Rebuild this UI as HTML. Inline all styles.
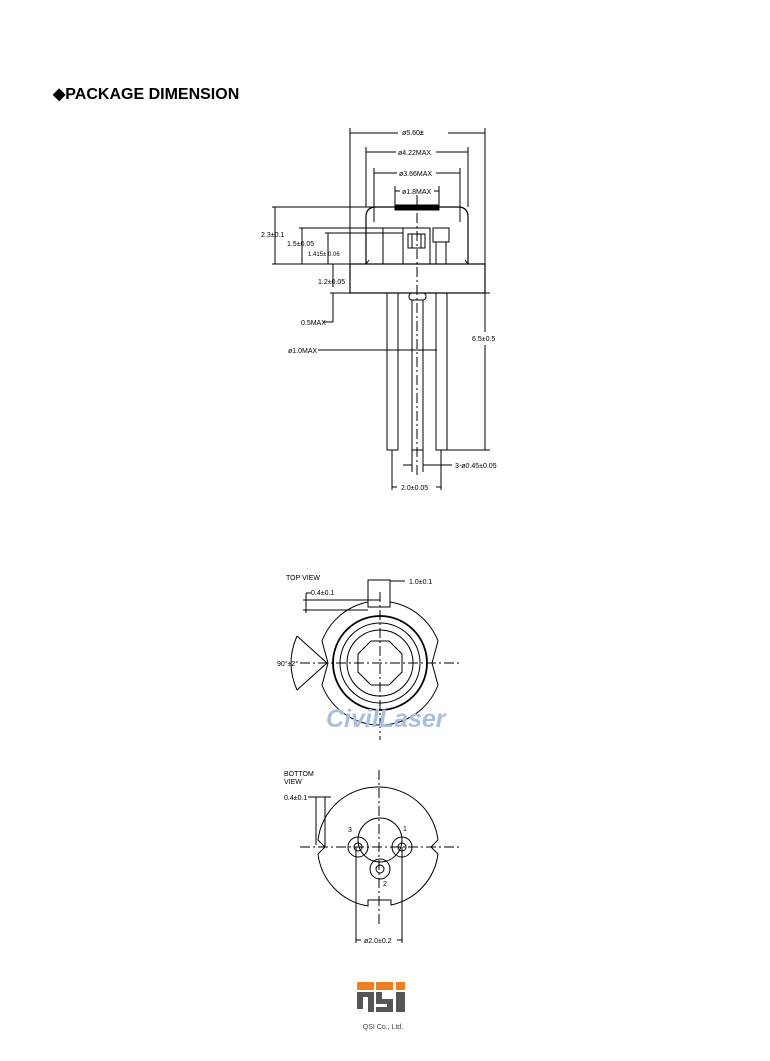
<!DOCTYPE html>
<html><head><style>
body{margin:0;background:#fff;width:770px;height:1061px;overflow:hidden;font-family:"Liberation Sans",sans-serif}
</style></head><body>
<svg width="770" height="1061" viewBox="0 0 770 1061" xmlns="http://www.w3.org/2000/svg" style="position:absolute;left:0;top:0">
<text x="53" y="99" font-size="16" font-weight="bold" fill="#000">◆PACKAGE DIMENSION</text>
<g stroke="#000" fill="none" stroke-width="1">
<rect x="350" y="264" width="135" height="29" stroke-width="1.2"/>
<path d="M366 264 L366 217 Q366 207 376 207 L458 207 Q468 207 468 217 L468 264" stroke-width="1.2"/>
<path d="M369 260 L366 264 M465 260 L468 264"/>
<rect x="395" y="205" width="44" height="5" fill="#000"/>
<line x1="383" y1="228" x2="383" y2="264"/>
<rect x="403" y="228" width="27" height="36"/>
<rect x="408" y="234" width="17" height="14"/>
<line x1="412" y1="234" x2="412" y2="248"/><line x1="421" y1="234" x2="421" y2="248"/>
<rect x="433" y="228" width="16" height="14"/>
<line x1="436" y1="242" x2="436" y2="264"/><line x1="446" y1="242" x2="446" y2="264"/>
<line x1="272" y1="207" x2="395" y2="207"/>
<line x1="299" y1="228" x2="403" y2="228"/>
<line x1="325" y1="233" x2="403" y2="233"/>
<line x1="272" y1="264" x2="350" y2="264"/>
<line x1="330" y1="293" x2="350" y2="293"/>
<line x1="350" y1="128" x2="350" y2="264"/>
<line x1="485" y1="128" x2="485" y2="264"/>
<line x1="366" y1="147" x2="366" y2="207"/>
<line x1="468" y1="147" x2="468" y2="207"/>
<line x1="374" y1="168" x2="374" y2="222"/>
<line x1="460" y1="168" x2="460" y2="222"/>
<line x1="395" y1="186" x2="395" y2="205"/>
<line x1="439" y1="186" x2="439" y2="205"/>
<line x1="350" y1="133" x2="398" y2="133"/><line x1="448" y1="133" x2="485" y2="133"/>
<line x1="366" y1="152" x2="396" y2="152"/><line x1="436" y1="152" x2="468" y2="152"/>
<line x1="374" y1="173" x2="397" y2="173"/><line x1="436" y1="173" x2="460" y2="173"/>
<line x1="395" y1="191" x2="400" y2="191"/><line x1="434" y1="191" x2="439" y2="191"/>
<line x1="275" y1="207" x2="275" y2="264"/>
<line x1="302" y1="228" x2="302" y2="264"/>
<line x1="328" y1="233" x2="328" y2="264"/>
<line x1="333" y1="264" x2="333" y2="287"/>
<line x1="333" y1="293" x2="333" y2="322"/><line x1="323" y1="322" x2="333" y2="322"/>
<line x1="318" y1="350" x2="437" y2="350"/>
<line x1="417" y1="195" x2="417" y2="475" stroke-dasharray="10,3,2,3"/>
<rect x="387" y="293" width="11" height="157"/>
<rect x="412" y="300" width="11" height="150"/>
<rect x="409" y="293" width="17" height="7" rx="3"/>
<rect x="436" y="293" width="11" height="157"/>
<line x1="392" y1="450" x2="392" y2="490"/>
<line x1="441" y1="450" x2="441" y2="490"/>
<line x1="412" y1="450" x2="412" y2="472"/><line x1="423" y1="450" x2="423" y2="472"/>
<line x1="403" y1="465" x2="412" y2="465"/><line x1="423" y1="465" x2="452" y2="465"/>
<line x1="392" y1="487" x2="397" y2="487"/><line x1="436" y1="487" x2="441" y2="487"/>
<line x1="485" y1="293" x2="485" y2="332"/><line x1="485" y1="345" x2="485" y2="450"/>
<line x1="447" y1="450" x2="490" y2="450"/>
<line x1="480" y1="293" x2="490" y2="293"/>
</g>
<g font-family="Liberation Sans,sans-serif" font-size="7" fill="#000">
<text x="402" y="135">ø5.60<tspan font-weight="bold">±</tspan></text>
<text x="398" y="155">ø4.22MAX</text>
<text x="399" y="176">ø3.66MAX</text>
<text x="402" y="194">ø1.8MAX</text>
<text x="261" y="237">2.3±0.1</text>
<text x="287" y="246">1.5±0.05</text>
<text x="308" y="256" font-size="6">1.415± 0.06</text>
<text x="318" y="284">1.2±0.05</text>
<text x="301" y="325">0.5MAX</text>
<text x="288" y="353">ø1.0MAX</text>
<text x="472" y="341">6.5±0.5</text>
<text x="455" y="468">3-ø0.45±0.05</text>
<text x="401" y="490">2.0±0.05</text>
</g>
<!-- TOP VIEW -->
<g stroke="#000" fill="none" stroke-width="1">
<path d="M368 602 A62 62 0 0 0 322 641 L328 663 L322 685 A62 62 0 0 0 380 725 A62 62 0 0 0 438 685 L432 663 L438 641 A62 62 0 0 0 390 602"/>
<rect x="368" y="580" width="22" height="27"/>
<circle cx="380" cy="663" r="47" stroke-width="1.8"/>
<circle cx="380" cy="663" r="40"/>
<circle cx="380" cy="663" r="33"/>
<polygon points="389,641 402,654 402,672 389,685 371,685 358,672 358,654 371,641"/>
<line x1="300" y1="663" x2="460" y2="663" stroke-dasharray="10,3,2,3"/>
<line x1="380" y1="592" x2="380" y2="740" stroke-dasharray="10,3,2,3"/>
<line x1="327" y1="663" x2="297" y2="636"/><line x1="327" y1="663" x2="297" y2="690"/>
<path d="M297 636 Q285 663 297 690"/>
<line x1="390" y1="581" x2="405" y2="581"/>
<line x1="303" y1="600" x2="380" y2="600"/><line x1="303" y1="610" x2="368" y2="610"/>
<line x1="306" y1="593" x2="306" y2="613"/>
<line x1="306" y1="593" x2="311" y2="593"/>
</g>
<g font-size="7" fill="#000">
<text x="286" y="580">TOP  VIEW</text>
<text x="409" y="584">1.0±0.1</text>
<text x="311" y="595">0.4±0.1</text>
<text x="277" y="666">90°±2°</text>
</g>
<text x="326" y="727" font-size="25" font-weight="bold" font-style="italic" fill="#a9bfe0">CivilLaser</text>
<!-- BOTTOM VIEW -->
<g stroke="#000" fill="none" stroke-width="1">
<path d="M318 840 A60 60 0 0 1 378 787 A60 60 0 0 1 438 840 L431 847 L438 854 A60 60 0 0 1 391 905 L391 900 L368 900 L368 906 A60 60 0 0 1 318 854 L325 847 Z"/>
<circle cx="380" cy="840" r="22"/>
<circle cx="358" cy="847" r="10"/><circle cx="358" cy="847" r="4"/>
<circle cx="402" cy="847" r="10"/><circle cx="402" cy="847" r="4"/>
<circle cx="380" cy="869" r="10"/><circle cx="380" cy="869" r="4"/>
<line x1="300" y1="847" x2="460" y2="847" stroke-dasharray="10,3,2,3"/>
<line x1="379" y1="770" x2="379" y2="925" stroke-dasharray="10,3,2,3"/>
<line x1="356" y1="847" x2="356" y2="943"/><line x1="402" y1="847" x2="402" y2="943"/>
<line x1="356" y1="940" x2="361" y2="940"/><line x1="397" y1="940" x2="402" y2="940"/>
<line x1="316" y1="797" x2="316" y2="845"/><line x1="325" y1="797" x2="325" y2="847"/>
<line x1="308" y1="797" x2="331" y2="797"/>
</g>
<g font-size="7" fill="#000">
<text x="284" y="776">BOTTOM</text><text x="284" y="784">VIEW</text>
<text x="284" y="800">0.4±0.1</text>
<text x="348" y="832">3</text><text x="403" y="831">1</text><text x="383" y="886">2</text>
<text x="364" y="943">ø2.0±0.2</text>
</g>
<g>
<rect x="357" y="982" width="17" height="8" fill="#f47c20"/>
<rect x="376" y="982" width="17" height="8" fill="#f47c20"/>
<rect x="396" y="982" width="9" height="8" fill="#f47c20"/>
<path d="M357 992 h17 v20 h-6 v-15 h-5 v12 h-6z" fill="#555"/>
<path d="M376 992 h6 v7 h11 v13 h-17 v-5 h11 v-3 h-11z" fill="#555"/>
<rect x="396" y="992" width="9" height="20" fill="#555"/>
<text x="383" y="1029" font-size="7" fill="#444" text-anchor="middle">QSI Co., Ltd.</text>
</g>
</svg>
</body></html>
